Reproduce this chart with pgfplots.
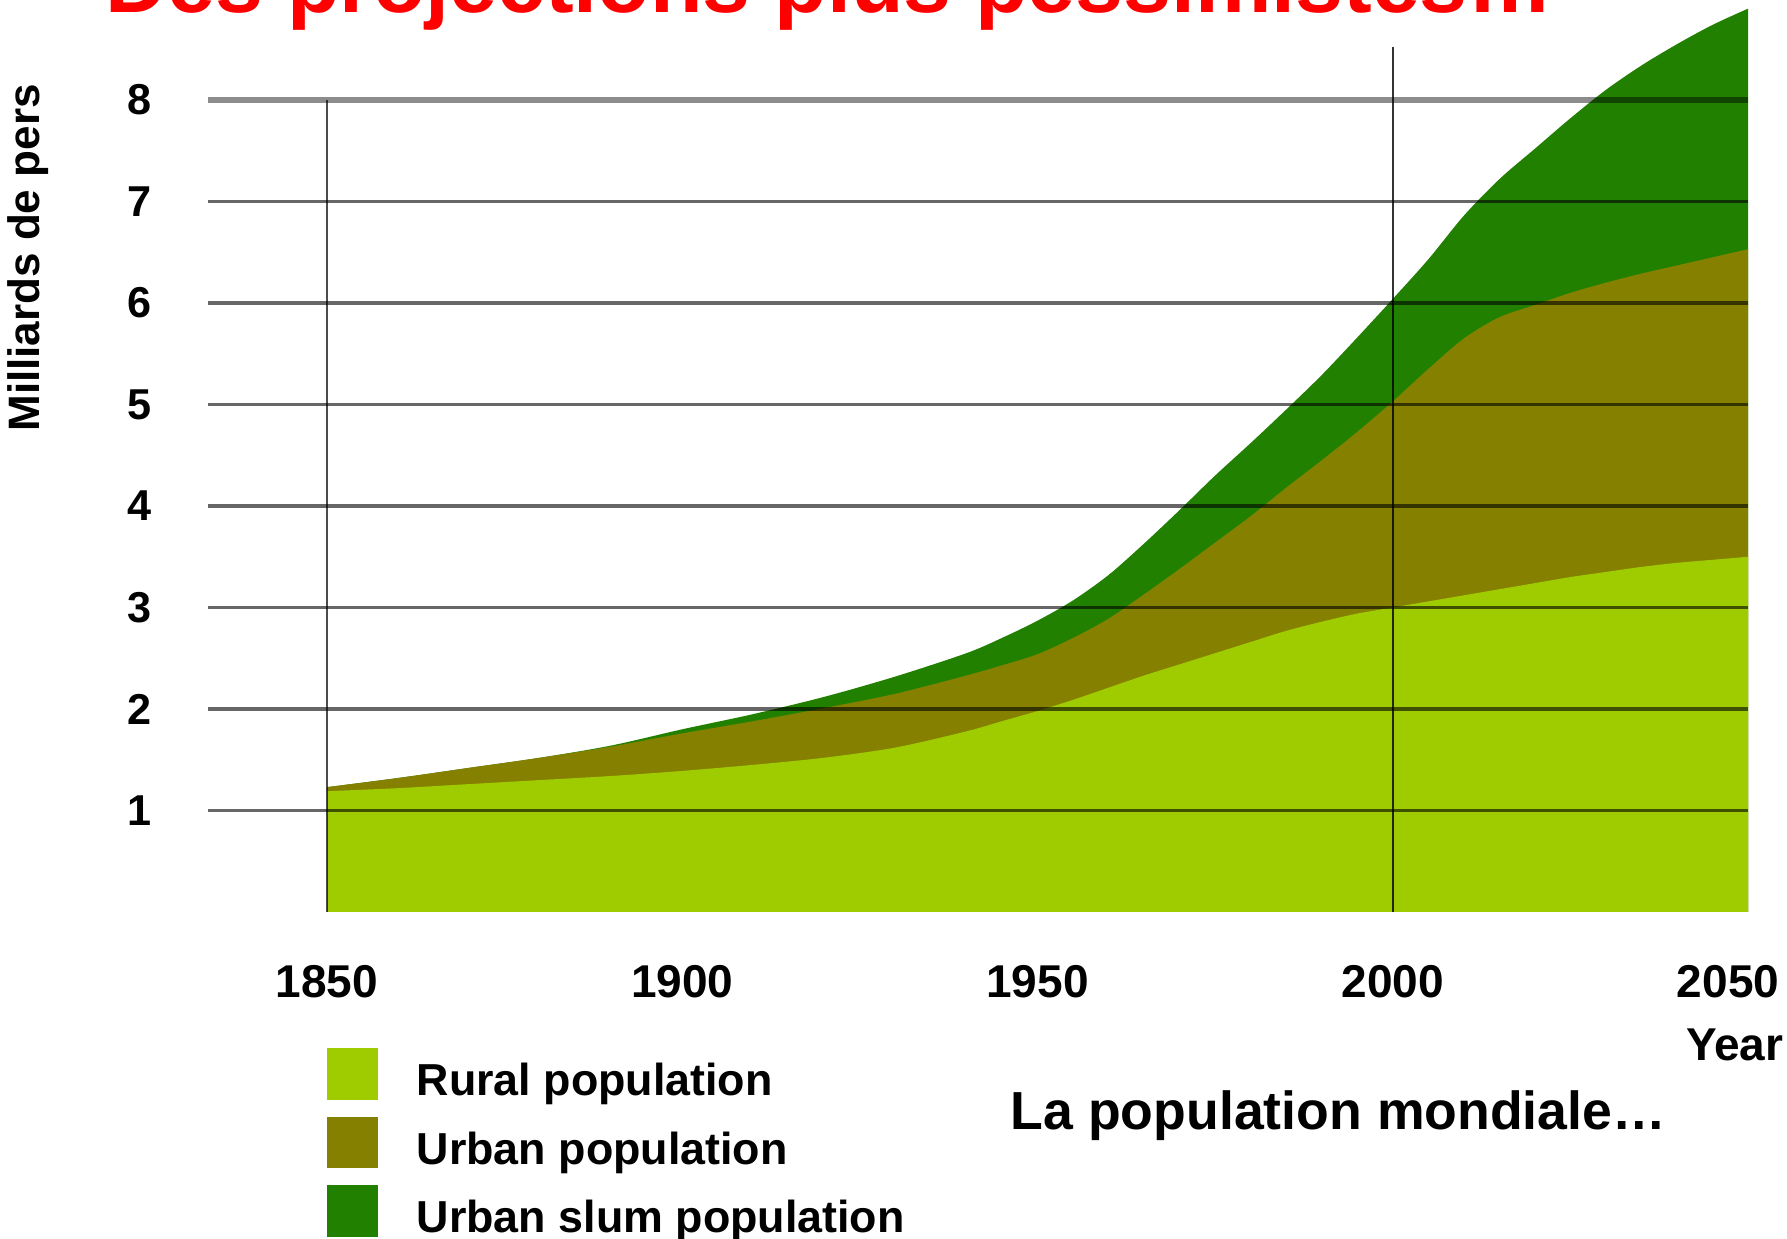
\documentclass[border=0pt]{standalone}
\usepackage{fontspec}
\setmainfont{Liberation Sans}
\usepackage{pgfplots}
\pgfplotsset{compat=1.18}
\usepackage{pgfplotstable}
\definecolor{rural}{RGB}{158,204,0}
\definecolor{urban}{RGB}{133,128,0}
\definecolor{slum}{RGB}{34,128,0}

\pgfplotstableread{
year rural urban slum
1850 1.19 1.23 1.23
1860 1.22 1.32 1.32
1870 1.26 1.42 1.42
1880 1.30 1.52 1.52
1890 1.34 1.63 1.64
1900 1.39 1.76 1.80
1910 1.45 1.88 1.95
1920 1.52 2.01 2.12
1930 1.62 2.15 2.32
1940 1.78 2.33 2.55
1945 1.88 2.43 2.70
1950 1.98 2.54 2.87
1955 2.09 2.70 3.07
1960 2.21 2.89 3.32
1965 2.33 3.13 3.63
1970 2.44 3.38 3.96
1975 2.55 3.64 4.30
1980 2.66 3.90 4.62
1985 2.77 4.18 4.95
1990 2.86 4.45 5.29
1995 2.94 4.73 5.66
2000 3.00 5.03 6.04
2005 3.06 5.35 6.43
2010 3.12 5.65 6.86
2015 3.18 5.86 7.22
2020 3.24 5.98 7.52
2025 3.30 6.10 7.82
2030 3.35 6.20 8.10
2035 3.40 6.29 8.34
2040 3.44 6.37 8.55
2045 3.47 6.45 8.74
2050 3.50 6.53 8.90
}\popdata

\begin{document}
\begin{tikzpicture}
\path[use as bounding box] (0,0) rectangle (446.75pt,309.75pt);
\begin{axis}[
  at={(81.75pt,81.75pt)}, anchor=south west,
  scale only axis, width=355.25pt, height=228.375pt,
  xmin=1850, xmax=2050, ymin=0, ymax=9,
  clip=false,
  axis line style={draw=none},
  major tick length=0pt,
  xtick={1850,1900,1950,2000}, xticklabels={1850,1900,1950,2000},
  extra x ticks={2050}, extra x tick labels={2050},
  extra x tick style={xticklabel style={xshift=-5pt}},
  ytick={1,2,3,4,5,6,7,8}, yticklabels={1,2,3,4,5,6,7,8},
  xticklabel style={anchor=center, yshift=-17.5pt, font=\bfseries\fontsize{11.5}{13}\selectfont},
  yticklabel style={anchor=center, xshift=-46.75pt, font=\bfseries\fontsize{10.8}{13}\selectfont},
]
\addplot[draw=none, fill=slum, smooth, tension=0.5] table[x=year,y=slum]{\popdata} \closedcycle;
\addplot[draw=none, fill=urban, smooth, tension=0.5] table[x=year,y=urban]{\popdata} \closedcycle;
\addplot[draw=none, fill=rural, smooth, tension=0.5] table[x=year,y=rural]{\popdata} \closedcycle;
% grid lines
\draw[black, opacity=0.6, line width=0.8pt] (axis cs:1833.3,1) -- (axis cs:2050,1);
\draw[black, opacity=0.6, line width=0.8pt] (axis cs:1833.3,2) -- (axis cs:2050,2);
\draw[black, opacity=0.6, line width=0.8pt] (axis cs:1833.3,3) -- (axis cs:2050,3);
\draw[black, opacity=0.6, line width=0.8pt] (axis cs:1833.3,4) -- (axis cs:2050,4);
\draw[black, opacity=0.6, line width=0.8pt] (axis cs:1833.3,5) -- (axis cs:2050,5);
\draw[black, opacity=0.6, line width=0.8pt] (axis cs:1833.3,6) -- (axis cs:2050,6);
\draw[black, opacity=0.6, line width=0.8pt] (axis cs:1833.3,7) -- (axis cs:2050,7);
\draw[black, opacity=0.45, line width=1.3pt] (axis cs:1833.3,8) -- (axis cs:2050,8);
\draw[black, opacity=0.7, line width=0.55pt] (axis cs:1850,0) -- (axis cs:1850,8);
\draw[black, opacity=0.8, line width=0.5pt] (axis cs:2000,0) -- (axis cs:2000,8.52);
\end{axis}
% title (partly cut off at top, as in the reference)
\node[anchor=base west, inner sep=0pt, text=red, font=\bfseries\fontsize{21.5}{24}\selectfont] at (26.2pt,306.5pt) {Des projections plus pessimistes…};
% axis titles
\node[rotate=90, inner sep=0pt, font=\bfseries\fontsize{11}{13}\selectfont] at (7.1pt,245.25pt) {Milliards de pers};
\node[inner sep=0pt, font=\bfseries\fontsize{11.5}{13}\selectfont] at (433.7pt,48.5pt) {Year};
% legend
\fill[rural] (81.75pt,34.75pt) rectangle (94.5pt,47.75pt);
\fill[urban] (81.75pt,17.75pt) rectangle (94.5pt,30.5pt);
\fill[slum] (81.75pt,0.5pt) rectangle (94.5pt,13.5pt);
\node[anchor=base west, inner sep=0pt, font=\bfseries\fontsize{11.2}{13}\selectfont] at (104pt,35.75pt) {Rural population};
\node[anchor=base west, inner sep=0pt, font=\bfseries\fontsize{11.2}{13}\selectfont] at (104pt,18.5pt) {Urban population};
\node[anchor=base west, inner sep=0pt, font=\bfseries\fontsize{11.2}{13}\selectfont] at (104pt,1.5pt) {Urban slum population};
% caption
\node[anchor=base west, inner sep=0pt, font=\bfseries\fontsize{13.4}{16}\selectfont] at (252.5pt,27.25pt) {La population mondiale…};
\end{tikzpicture}
\end{document}
